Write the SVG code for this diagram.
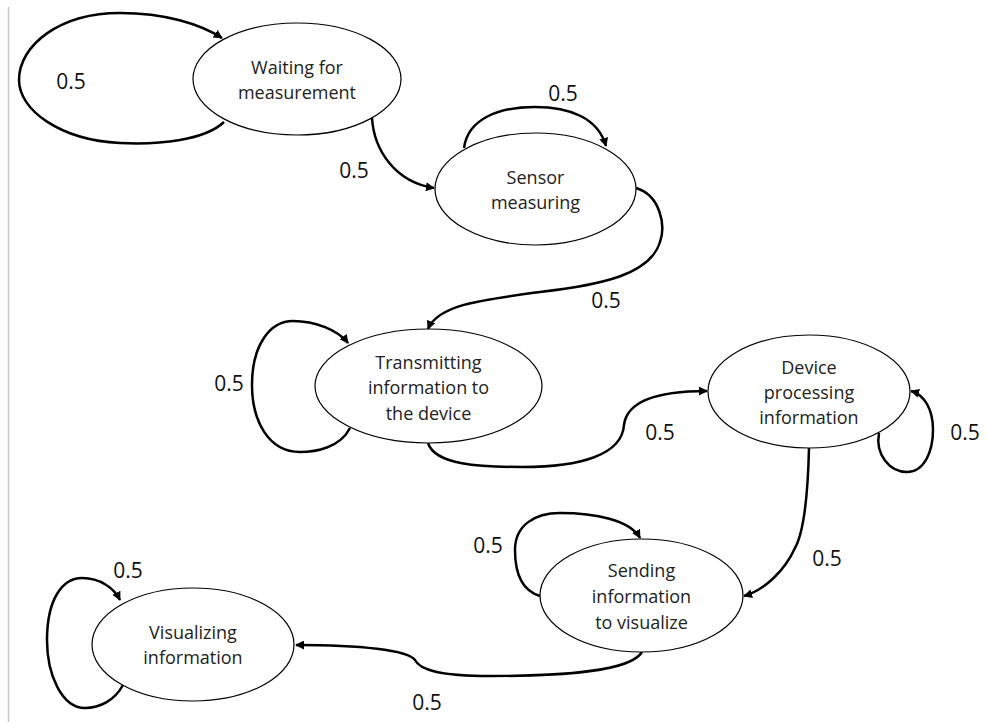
<svg xmlns="http://www.w3.org/2000/svg" width="987" height="722" viewBox="0 0 987 722">
  <defs>
    <marker id="arrow" viewBox="0 0 10 10" refX="9" refY="5" markerWidth="9" markerHeight="9" markerUnits="userSpaceOnUse" orient="auto">
      <path d="M0,0 L10,5 L0,10 Z" fill="#000"/>
    </marker>
    <style>
      .node ellipse { fill: #fff; stroke: #000; stroke-width: 1.2; }
      .node text { font-family: "Open Sans", "Liberation Sans", sans-serif; font-size: 18px; fill: #222; text-anchor: middle; dominant-baseline: central; }
      .edge { fill: none; stroke: #000; stroke-width: 2.5; marker-end: url(#arrow); }
      .lbl { font-family: "Open Sans", "Liberation Sans", sans-serif; font-size: 21px; fill: #111; text-anchor: middle; dominant-baseline: central; }
    </style>
  </defs>

  <rect width="987" height="722" fill="#fff"/>
  <!-- page margin rule -->
  <line x1="8.5" y1="7" x2="8.5" y2="722" stroke="#c8c8c8" stroke-width="1.5"/>

  <g id="connectors">
    <!-- self loop: waiting -->
    <path class="edge" d="M224,122 C205,140 160,145 120,143 C60,140 19,110 19,80 C19,45 60,13 120,13 C165,13 200,24 222,38"/>
    <!-- waiting -> sensor -->
    <path class="edge" d="M372,118 C374,150 395,182 434,188"/>
    <!-- self loop: sensor -->
    <path class="edge" d="M464,148 C468,118 500,107 535,107 C570,107 598,118 606,146"/>
    <!-- sensor -> transmitting -->
    <path class="edge" d="M636,188 C660,195 666,225 660,242 C650,275 600,285 540,292 C480,300 438,305 428,329"/>
    <!-- self loop: transmitting -->
    <path class="edge" d="M350,428 C340,448 315,452 300,452 C268,452 252,420 252,385 C252,345 270,321 293,321 C315,321 338,330 348,343"/>
    <!-- transmitting -> device -->
    <path class="edge" d="M428,443 C435,465 480,467 523,467 C580,467 622,455 624,425 C627,400 660,391 707,391"/>
    <!-- self loop: device -->
    <path class="edge" d="M879,433 C875,455 890,472 907,472 C925,472 933,450 933,430 C933,410 925,395 911,391"/>
    <!-- device -> sending -->
    <path class="edge" d="M809,448 C808,490 805,530 795,548 C785,570 765,590 744,596"/>
    <!-- self loop: sending -->
    <path class="edge" d="M540,596 C520,590 515,570 515,550 C515,525 535,513 560,513 C595,513 630,520 640,538"/>
    <!-- sending -> visualizing -->
    <path class="edge" d="M642,652 C630,672 560,676 490,676 C440,676 420,670 415,660 C408,650 360,645 296,645"/>
    <!-- self loop: visualizing -->
    <path class="edge" d="M123,685 C115,700 100,708 85,708 C62,708 47,675 47,640 C47,600 62,578 82,578 C100,578 114,588 120,600"/>

    <text class="lbl" x="71" y="81">0.5</text>
    <text class="lbl" x="354" y="170">0.5</text>
    <text class="lbl" x="563" y="93">0.5</text>
    <text class="lbl" x="606" y="300">0.5</text>
    <text class="lbl" x="229" y="383">0.5</text>
    <text class="lbl" x="660" y="432">0.5</text>
    <text class="lbl" x="965" y="432">0.5</text>
    <text class="lbl" x="827" y="558">0.5</text>
    <text class="lbl" x="488" y="545">0.5</text>
    <text class="lbl" x="427" y="702">0.5</text>
    <text class="lbl" x="128" y="570">0.5</text>
  </g>

  <g id="waiting" class="node">
    <ellipse cx="297" cy="79" rx="104" ry="56"/>
    <text x="297" y="67">Waiting for</text>
    <text x="297" y="92">measurement</text>
  </g>

  <g id="sensor" class="node">
    <ellipse cx="535.5" cy="189" rx="100.5" ry="56"/>
    <text x="535.5" y="177">Sensor</text>
    <text x="535.5" y="202">measuring</text>
  </g>

  <g id="transmitting" class="node">
    <ellipse cx="428.5" cy="386" rx="113.5" ry="57"/>
    <text x="428.5" y="362">Transmitting</text>
    <text x="428.5" y="387">information to</text>
    <text x="428.5" y="413">the device</text>
  </g>

  <g id="device" class="node">
    <ellipse cx="809" cy="391.5" rx="101" ry="56.5"/>
    <text x="809" y="367">Device</text>
    <text x="809" y="392">processing</text>
    <text x="809" y="417">information</text>
  </g>

  <g id="sending" class="node">
    <ellipse cx="641.5" cy="595.5" rx="101.5" ry="56.5"/>
    <text x="641.5" y="570">Sending</text>
    <text x="641.5" y="596">information</text>
    <text x="641.5" y="622">to visualize</text>
  </g>

  <g id="visualizing" class="node">
    <ellipse cx="193" cy="644.5" rx="101" ry="56.5"/>
    <text x="193" y="632">Visualizing</text>
    <text x="193" y="657">information</text>
  </g>
</svg>
